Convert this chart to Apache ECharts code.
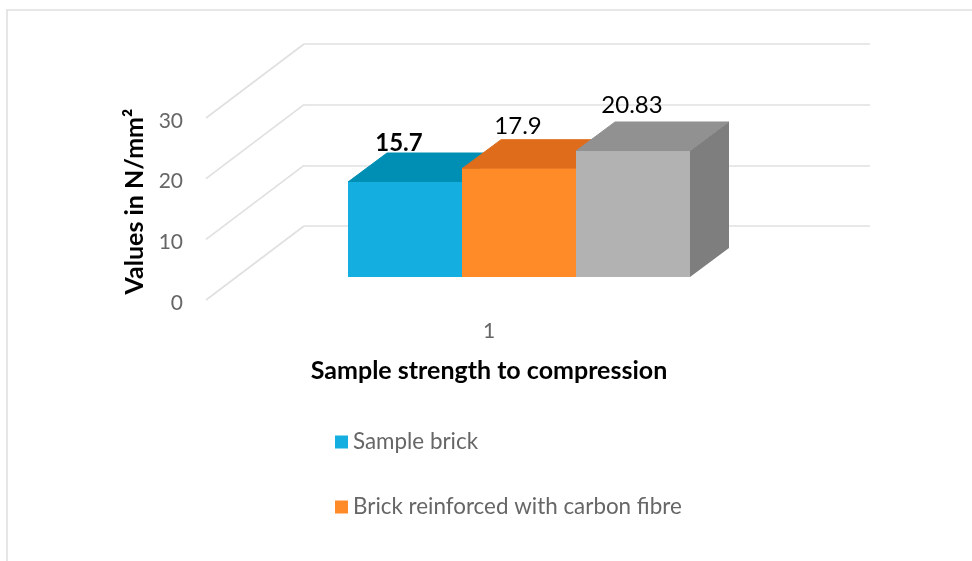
<!DOCTYPE html>
<html>
<head>
<meta charset="utf-8">
<style>
  html, body { margin: 0; padding: 0; background: #fff; }
  #chart { width: 972px; height: 561px; }
</style>
<script src="https://cdn.jsdelivr.net/npm/echarts@6/dist/echarts.min.js"></script>
</head>
<body>
<div id="chart"></div>
<script>
  const categories = ["1"];
  const ticks = [0, 10, 20, 30];
  const sampleBrick = [15.7];
  const carbonBrick = [17.9];
  const thirdBrick = [20.83];
  const seriesNames = ["Sample brick", "Brick reinforced with carbon fibre", "Brick 3"];

  const fontFamily = "Lato, 'Open Sans', sans-serif";
  const gridColor = "#e0e0e0";
  const frontColors = ["#14aee1", "#ff8a28", "#b2b2b2"];
  const topColors = ["#008fb4", "#df6c1b", "#919191"];
  const sideColor = "#7e7e7e";

  // side wall runs from the back wall towards the viewer by this much
  const wallDepth = [-98, 74];
  const barDepth = [39, -29];

  function renderWallLine(params, api) {
    const start = api.coord([0, api.value(0)]);
    const x = params.coordSys.x;
    return {
      type: "line",
      shape: { x1: x, y1: start[1], x2: x + wallDepth[0], y2: start[1] + wallDepth[1] },
      style: { stroke: gridColor, lineWidth: 1.6 },
      silent: true
    };
  }

  function renderBarDepth(params, api) {
    const i = params.dataIndex;
    const band = params.coordSys.width / 3;
    const x0 = params.coordSys.x + band * i;
    const x1 = x0 + band;
    const top = api.coord([0, api.value(1)])[1];
    const bottom = api.coord([0, 0])[1];
    const dx = barDepth[0];
    const dy = barDepth[1];
    const children = [
      {
        type: "polygon",
        shape: { points: [[x0, top], [x0 + dx, top + dy], [x1 + dx, top + dy], [x1, top]] },
        style: { fill: topColors[i], stroke: topColors[i], lineWidth: 1 }
      }
    ];
    // only the last bar shows its side, the others are hidden by their neighbour
    if (i === 2) {
      children.push({
        type: "polygon",
        shape: { points: [[x1, top], [x1 + dx, top + dy], [x1 + dx, bottom + dy], [x1, bottom]] },
        style: { fill: sideColor }
      });
    }
    return { type: "group", children: children };
  }

  function barSeries(i, values, distance, offsetX, weight) {
    return {
      name: seriesNames[i],
      type: "bar",
      xAxisIndex: 2,
      yAxisIndex: 2,
      barGap: 0,
      barCategoryGap: 0,
      z: 4,
      data: values,
      itemStyle: { color: frontColors[i] },
      label: {
        show: true,
        position: "top",
        distance: distance,
        offset: [offsetX, 0],
        color: "#000",
        fontFamily: fontFamily,
        fontSize: 24,
        fontWeight: weight
      }
    };
  }

  const hiddenX = {
    type: "category",
    data: categories,
    axisLine: { show: false },
    axisTick: { show: false },
    axisLabel: { show: false }
  };

  const chart = echarts.init(document.getElementById("chart"));
  chart.setOption({
    animation: false,
    backgroundColor: "#fff",
    graphic: [
      {
        type: "rect",
        shape: { x: 7, y: 10, width: 1000, height: 600 },
        style: { fill: "none", stroke: gridColor, lineWidth: 1.6 },
        silent: true
      }
    ],
    grid: [
      { left: 206, top: 121, width: 566, height: 182 },
      { left: 304, top: 44, width: 566, height: 182 },
      { left: 348, top: 95.5, width: 342, height: 181.5 }
    ],
    xAxis: [
      {
        type: "category",
        gridIndex: 0,
        data: categories,
        axisLine: { show: false },
        axisTick: { show: false },
        axisLabel: { color: "#666", fontFamily: fontFamily, fontSize: 21, margin: 18 },
        name: "Sample strength to compression",
        nameLocation: "middle",
        nameGap: 55,
        nameTextStyle: { color: "#000", fontFamily: fontFamily, fontSize: 25, fontWeight: "bold" }
      },
      Object.assign({ gridIndex: 1 }, hiddenX),
      Object.assign({ gridIndex: 2 }, hiddenX)
    ],
    yAxis: [
      {
        type: "value",
        gridIndex: 0,
        min: 0,
        max: 30,
        interval: 10,
        axisLine: { show: false },
        axisTick: { show: false },
        splitLine: { show: false },
        axisLabel: { color: "#666", fontFamily: fontFamily, fontSize: 21, margin: 23 },
        name: "Values in N/mm²",
        nameLocation: "middle",
        nameGap: 57,
        nameTextStyle: {
          color: "#000",
          fontFamily: fontFamily,
          fontSize: 25,
          fontWeight: "bold",
          padding: [0, 0, 0, 21]
        }
      },
      {
        type: "value",
        gridIndex: 1,
        min: 0,
        max: 30,
        interval: 10,
        axisLine: { show: false },
        axisTick: { show: false },
        axisLabel: { show: false },
        splitLine: { show: true, lineStyle: { color: gridColor, width: 1.6 } }
      },
      {
        type: "value",
        gridIndex: 2,
        min: 0,
        max: 30,
        interval: 10,
        axisLine: { show: false },
        axisTick: { show: false },
        axisLabel: { show: false },
        splitLine: { show: false }
      }
    ],
    legend: {
      data: seriesNames.slice(0, 2),
      orient: "vertical",
      left: 330,
      top: 426,
      itemWidth: 13,
      itemHeight: 13,
      itemGap: 43,
      icon: "rect",
      textStyle: { color: "#666", fontFamily: fontFamily, fontSize: 22.4 }
    },
    series: [
      {
        type: "custom",
        xAxisIndex: 1,
        yAxisIndex: 1,
        z: 1,
        silent: true,
        renderItem: renderWallLine,
        encode: { y: 0 },
        data: ticks.map(function (t) { return [t]; })
      },
      {
        type: "custom",
        xAxisIndex: 2,
        yAxisIndex: 2,
        z: 3,
        silent: true,
        renderItem: renderBarDepth,
        encode: { x: 0, y: 1 },
        data: [sampleBrick[0], carbonBrick[0], thirdBrick[0]].map(function (v) { return [0, v]; })
      },
      barSeries(0, sampleBrick, 27, -6, "bold"),
      barSeries(1, carbonBrick, 30, -1, "normal"),
      barSeries(2, thirdBrick, 34, -1, "normal")
    ]
  });
</script>
</body>
</html>
